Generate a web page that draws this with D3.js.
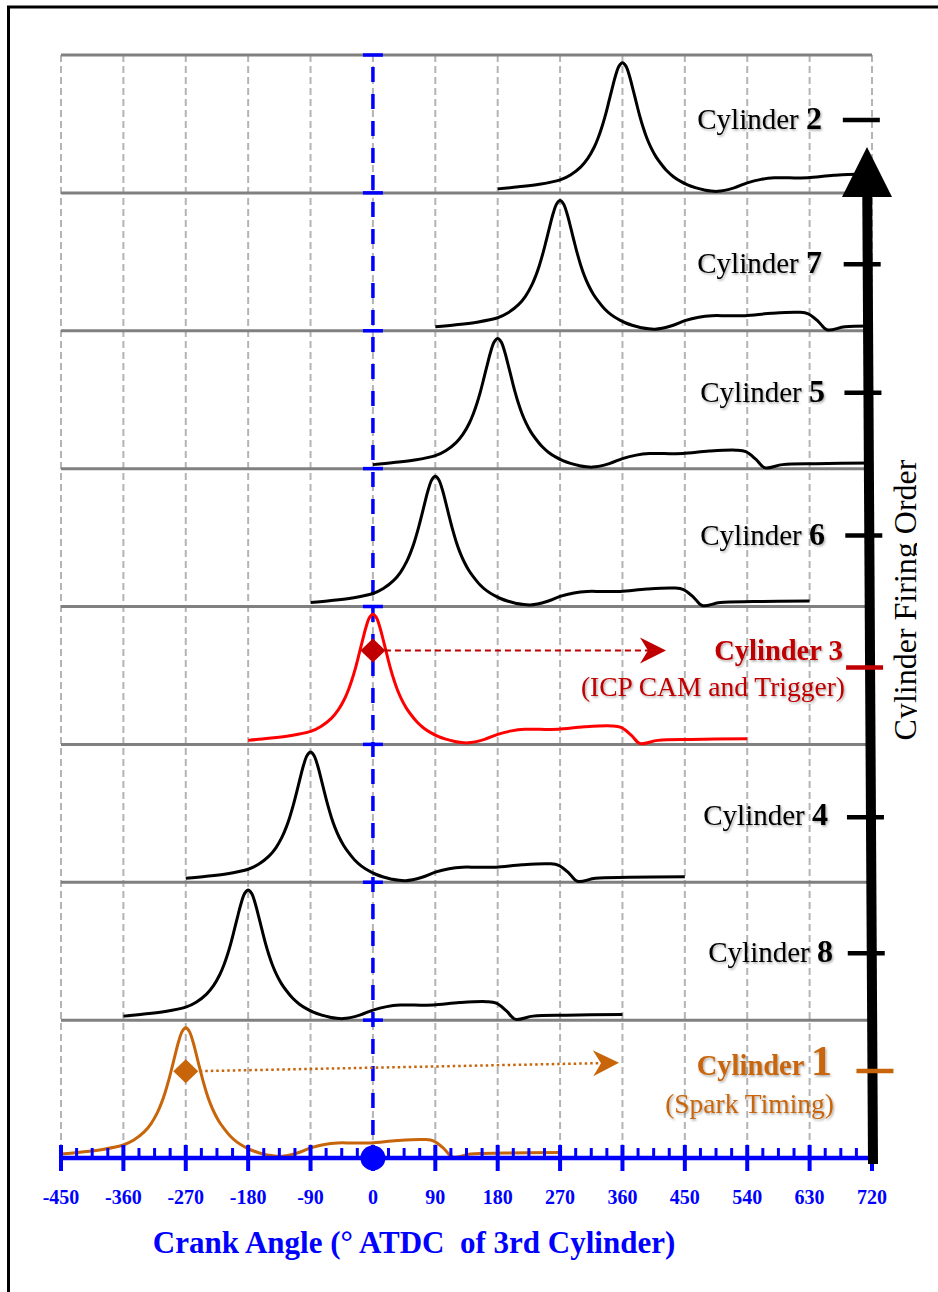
<!DOCTYPE html>
<html><head><meta charset="utf-8">
<script src="https://cdn.jsdelivr.net/npm/d3@7"></script>
<style>body{margin:0;background:#fff}svg{display:block}</style>
</head><body>
<svg id="chart" width="938" height="1292"></svg>
<script>
// ---------------- DATA ----------------
const cylinders = [2, 7, 5, 6, 3, 4, 8, 1];               // top to bottom (firing order reversed)
const tdcAngles = [360, 270, 180, 90, 0, -90, -180, -270];  // firing TDC of each cylinder (deg ATDC of cyl 3)
const subLabels = ["", "", "", "", "(ICP CAM and Trigger)", "", "", "(Spark Timing)"];
const xTickLabels = [-450, -360, -270, -180, -90, 0, 90, 180, 270, 360, 450, 540, 630, 720];
// common pressure trace: angle relative to firing TDC (deg) and pressure (% of band height)
const traceRelAngle = [-180, -150, -120, -90, -75, -60, -50, -41, -35, -30, -25, -20, -15, -10, -5, 0, 5, 10, 15, 20, 25, 30, 35, 41, 48, 55, 64, 74, 84, 94, 105, 117, 137, 161, 180, 200, 219, 240, 267, 305, 344, 358, 373, 385, 411, 459, 540];
const tracePressure = [2.9, 4.4, 6.2, 9.4, 13, 18.9, 25, 32.9, 40, 47.2, 55.7, 65.4, 75.5, 85, 91.9, 94.4, 91.9, 85, 75.5, 65.4, 55.7, 47.2, 40, 33, 26.5, 21.5, 16, 11.5, 8.3, 5.8, 3.8, 2.2, 1.1, 3.6, 7.3, 9.8, 10.9, 10.9, 10.9, 12.7, 13.4, 12.3, 6.5, 0.7, 2.9, 3.6, 4];

// ---------------- LAYOUT ----------------
const W = 938, H = 1292;
const plotL = 61, plotR = 872, plotT = 55, plotB = 1158;
const serif = "'Liberation Serif','Times New Roman',serif";
const BLUE = "#0000ff", RED = "#ff0000", DRED = "#c00000", ORANGE = "#c8650a";
const curveColor = c => c === 3 ? RED : c === 1 ? ORANGE : "#000";
const labelColor = c => c === 3 ? DRED : c === 1 ? ORANGE : "#000";
// annotation nudges (tick offset from band centre, label right end, label baseline offset)
const annot = [
  {dy: -4, end: 822, by: 9}, {dy: 2.5, end: 822, by: 9}, {dy: -7, end: 825, by: 9},
  {dy: -2, end: 825, by: 9}, {dy: -8, end: 843, by: -7, sy: 29}, {dy: 4, end: 828, by: 8},
  {dy: 2, end: 833, by: 9}, {dy: -18, end: 832, by: 4, sy: 42}
];

const svg = d3.select("#chart");
const defs = svg.append("defs");
const f = defs.append("filter").attr("id", "sh").attr("x", "-10%").attr("y", "-30%").attr("width", "130%").attr("height", "170%");
f.append("feDropShadow").attr("dx", 1.2).attr("dy", 1.5).attr("stdDeviation", 1).attr("flood-color", "#000").attr("flood-opacity", 0.35);
defs.append("clipPath").attr("id", "clip").append("rect")
  .attr("x", plotL - 2).attr("y", 0).attr("width", plotR - plotL + 2).attr("height", H);
defs.append("clipPath").attr("id", "clipT").append("rect")
  .attr("x", 0).attr("y", 0).attr("width", 917).attr("height", H);

const x = d3.scaleLinear().domain([-450, 720]).range([plotL, plotR]);
const band = d3.scaleBand().domain(cylinders).range([plotT, plotB]).paddingInner(0).paddingOuter(0);
const bw = band.bandwidth();

// border (figure frame)
svg.append("path").attr("d", `M8.5,${H} V7 H${W}`).attr("fill", "none").attr("stroke", "#000").attr("stroke-width", 3);

// vertical dashed grid
svg.append("g").selectAll("line").data(xTickLabels).join("line")
  .attr("x1", d => x(d)).attr("x2", d => x(d)).attr("y1", plotT).attr("y2", plotB)
  .attr("stroke", "#b4b4b4").attr("stroke-width", 2).attr("stroke-dasharray", "7,4");

// band separator lines
svg.append("g").selectAll("line").data(cylinders).join("line")
  .attr("x1", plotL).attr("x2", plotR).attr("y1", d => band(d)).attr("y2", d => band(d))
  .attr("stroke", "#808080").attr("stroke-width", 3);

// blue TDC line of cylinder 3
svg.append("line").attr("x1", x(0)).attr("x2", x(0)).attr("y1", plotT).attr("y2", plotB - 20)
  .attr("stroke", BLUE).attr("stroke-width", 3.5).attr("stroke-dasharray", "15,12").attr("stroke-dashoffset", 15);
svg.append("g").selectAll("line").data(cylinders).join("line")
  .attr("x1", x(0) - 10).attr("x2", x(0) + 10).attr("y1", d => band(d)).attr("y2", d => band(d))
  .attr("stroke", BLUE).attr("stroke-width", 3.5);

// pressure traces
const traces = svg.append("g").attr("clip-path", "url(#clip)");
cylinders.forEach((c, i) => {
  const y = d3.scaleLinear().domain([0, 100]).range([band(c) + bw, band(c)]);
  const pts = traceRelAngle.map((a, k) => [tdcAngles[i] + a, tracePressure[k]]);
  const line = d3.line().x(d => x(d[0])).y(d => y(d[1])).curve(d3.curveCatmullRom.alpha(0.5));
  traces.append("path").attr("d", line(pts)).attr("fill", "none")
    .attr("stroke", curveColor(c)).attr("stroke-width", 3).attr("stroke-linejoin", "round");
});

// x axis
const ax = svg.append("g");
ax.append("line").attr("x1", plotL).attr("x2", plotR).attr("y1", plotB).attr("y2", plotB)
  .attr("stroke", BLUE).attr("stroke-width", 4.5);
const minorTicks = d3.range(0, 52).map(k => -450 + k * 22.5).filter(v => v % 90 !== 0);
ax.selectAll(".mn").data(minorTicks).join("line").attr("class", "mn")
  .attr("x1", d => x(d)).attr("x2", d => x(d)).attr("y1", plotB - 10).attr("y2", plotB)
  .attr("stroke", BLUE).attr("stroke-width", 3);
ax.selectAll(".mj").data(xTickLabels).join("line").attr("class", "mj")
  .attr("x1", d => x(d)).attr("x2", d => x(d)).attr("y1", plotB - 13).attr("y2", plotB + 13)
  .attr("stroke", BLUE).attr("stroke-width", 4);
ax.selectAll("text").data(xTickLabels).join("text")
  .attr("x", d => x(d)).attr("y", 1204).attr("text-anchor", "middle")
  .attr("font-family", serif).attr("font-weight", "bold").attr("font-size", 20).attr("fill", BLUE)
  .text(d => String(d));
svg.append("circle").attr("cx", x(0)).attr("cy", plotB).attr("r", 12.5).attr("fill", BLUE);
svg.append("text").attr("x", 414).attr("y", 1253).attr("text-anchor", "middle")
  .attr("font-family", serif).attr("font-weight", "bold").attr("font-size", 31).attr("fill", BLUE)
  .text("Crank Angle (\u00b0 ATDC \u00a0of 3rd Cylinder)");

// markers: spark timing (cyl 1) and ICP trigger (cyl 3)
function diamond(cx, cy, color) {
  svg.append("path").attr("d", `M${cx},${cy - 12} L${cx + 12.5},${cy} L${cx},${cy + 12} L${cx - 12.5},${cy} Z`).attr("fill", color);
}
function headPath(tx, ty, color, ang) {
  const g = svg.append("g").attr("transform", `translate(${tx},${ty}) rotate(${ang})`);
  g.append("path").attr("d", "M0,0 L-26,-13 L-18,0 L-26,13 Z").attr("fill", color);
}
// cylinder 3
const i3 = cylinders.indexOf(3);
const y3 = d3.scaleLinear().domain([0, 100]).range([band(3) + bw, band(3)]);
const d3y = y3(68);
svg.append("line").attr("x1", x(tdcAngles[i3]) + 12).attr("x2", 650).attr("y1", d3y).attr("y2", d3y)
  .attr("stroke", DRED).attr("stroke-width", 2).attr("stroke-dasharray", "6,4");
headPath(666, d3y, DRED, 0);
diamond(x(tdcAngles[i3]), d3y, DRED);
// cylinder 1
const i1 = cylinders.indexOf(1);
const y1 = d3.scaleLinear().domain([0, 100]).range([band(1) + bw, band(1)]);
const d1y = y1(63);
const ax1 = x(tdcAngles[i1]);
svg.append("line").attr("x1", ax1 + 14).attr("x2", 602).attr("y1", d1y).attr("y2", d1y - 8)
  .attr("stroke", ORANGE).attr("stroke-width", 2.5).attr("stroke-dasharray", "2.5,3");
headPath(619, d1y - 8.3, ORANGE, -1.1);
diamond(ax1, d1y, ORANGE);

// firing order arrow
const arrowX = y => 867 + (y - 147) * (6 / 1016);
svg.append("line").attr("x1", arrowX(185)).attr("x2", arrowX(1164)).attr("y1", 185).attr("y2", 1164)
  .attr("stroke", "#000").attr("stroke-width", 10);
svg.append("path").attr("d", `M${arrowX(147)},147 L${arrowX(147) + 25},197 L${arrowX(147) - 25},197 Z`).attr("fill", "#000");
svg.append("g").attr("clip-path", "url(#clipT)")
  .append("text").attr("transform", `translate(916,600) rotate(-90)`).attr("text-anchor", "middle")
  .attr("font-family", serif).attr("font-size", 32).attr("fill", "#000").text("Cylinder Firing Order");

// cylinder ticks and labels
cylinders.forEach((c, i) => {
  const a = annot[i];
  const ty = band(c) + bw / 2 + a.dy;
  const ax0 = arrowX(ty) + (c === 1 ? 8 : 0);
  svg.append("line").attr("x1", ax0 - 24).attr("x2", ax0 + 13).attr("y1", ty).attr("y2", ty)
    .attr("stroke", labelColor(c)).attr("stroke-width", 4.5);
  const special = c === 3 || c === 1;
  const t = svg.append("text").attr("x", a.end).attr("y", ty + a.by).attr("text-anchor", "end")
    .attr("font-family", serif).attr("fill", labelColor(c)).attr("filter", "url(#sh)");
  t.append("tspan").attr("font-size", special ? 28.5 : 29).attr("font-weight", special ? "bold" : "normal").text("Cylinder ");
  t.append("tspan").attr("font-size", a.sy || 32).attr("font-weight", "bold").text(String(c));
  if (subLabels[i]) {
    svg.append("text").attr("x", a.end + 2).attr("y", ty + a.by + (c === 3 ? 36 : 38))
      .attr("text-anchor", "end").attr("font-family", serif).attr("font-size", 27.5)
      .attr("fill", labelColor(c)).attr("filter", "url(#sh)").text(subLabels[i]);
  }
});
</script>
</body></html>
